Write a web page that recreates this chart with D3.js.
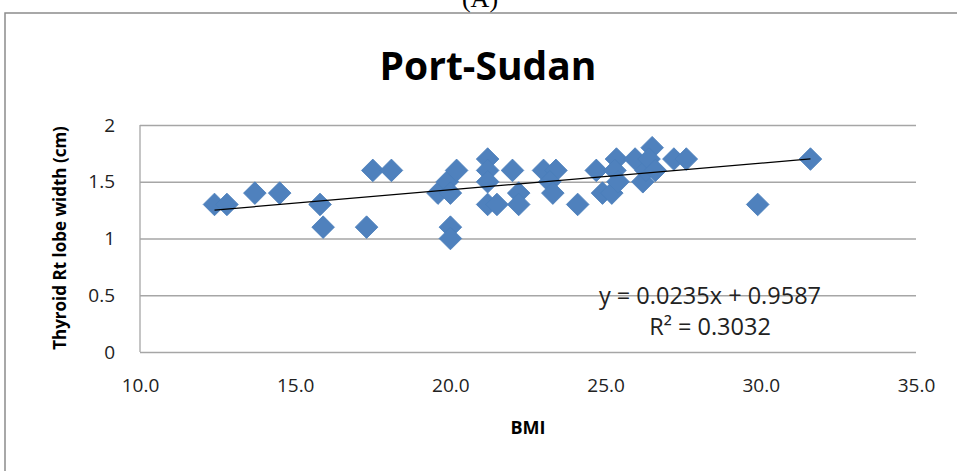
<!DOCTYPE html>
<html>
<head>
<meta charset="utf-8">
<script src="https://cdn.jsdelivr.net/npm/d3@7"></script>
<style>
  body { margin: 0; background: #fff; }
  text { font-family: "Open Sans", sans-serif; }
</style>
</head>
<body>
<svg id="chart" width="957" height="471"></svg>
<script>
// BMI vs thyroid right lobe width, Port-Sudan
const bmi = [12.4, 12.8, 13.7, 14.5, 15.8, 15.9, 17.3, 17.5, 18.1,
  19.6, 19.9, 20.2, 20.0, 20.0, 20.0,
  21.2, 21.2, 21.2, 21.2, 21.5, 22.0, 22.2, 22.2,
  23.0, 23.4, 23.2, 23.3, 24.1,
  24.7, 24.9, 25.2, 25.35, 25.3, 25.4, 25.95, 26.2, 26.3, 26.5, 26.4, 26.6,
  27.2, 27.6, 29.9, 31.6];
const lobeWidth = [1.3, 1.3, 1.4, 1.4, 1.3, 1.1, 1.1, 1.6, 1.6,
  1.4, 1.5, 1.6, 1.4, 1.1, 1.0,
  1.7, 1.6, 1.5, 1.3, 1.3, 1.6, 1.4, 1.3,
  1.6, 1.6, 1.5, 1.4, 1.3,
  1.6, 1.4, 1.4, 1.7, 1.6, 1.5, 1.7, 1.5, 1.6, 1.8, 1.7, 1.6,
  1.7, 1.7, 1.3, 1.7];
const xTicks = [10, 15, 20, 25, 30, 35];
const yTicks = [0, 0.5, 1, 1.5, 2];
const slope = 0.0235, intercept = 0.9587;
const eqLabel = "y = 0.0235x + 0.9587";
const r2Label = "R² = 0.3032";

let svg = d3.select("#chart");

// outer chart frame (right/bottom run off the picture)
svg.append("rect")
  .attr("x", 5).attr("y", 13)
  .attr("width", 980).attr("height", 480)
  .attr("fill", "none")
  .attr("stroke", "#8c8c8c")
  .attr("stroke-width", 1.5);

svg.append("text")
  .attr("x", 480).attr("y", 7)
  .attr("text-anchor", "middle")
  .style("font-family", "'Liberation Serif', serif")
  .style("font-size", "26px")
  .text("(A)");

let pLeft = 140, pRight = 916, pTop = 125, pBottom = 352;

let x = d3.scaleLinear().domain([10, 35]).range([pLeft, pRight]);
let y = d3.scaleLinear().domain([0, 2]).range([pBottom, pTop]);

// gridlines
svg.append("g")
  .attr("transform", "translate(" + pLeft + ",0)")
  .call(d3.axisLeft(y).tickValues(yTicks).tickSize(-(pRight - pLeft)).tickFormat(""))
  .call(g => g.select(".domain").remove())
  .call(g => g.selectAll("line").attr("stroke", "#a6a6a6").attr("stroke-width", 1.3));

// left axis line
svg.append("line")
  .attr("x1", pLeft).attr("x2", pLeft)
  .attr("y1", pTop).attr("y2", pBottom)
  .attr("stroke", "#a6a6a6").attr("stroke-width", 1.3);

// tick labels
svg.append("g")
  .attr("transform", "translate(" + (pLeft - 25) + ",0)")
  .call(d3.axisLeft(y).tickValues(yTicks).tickSize(0).tickPadding(0).tickFormat(d3.format("")))
  .call(g => g.select(".domain").remove())
  .call(g => g.selectAll("text").attr("fill", "#222").style("font-size", "19px"));

svg.append("g")
  .attr("transform", "translate(0," + (pBottom + 26) + ")")
  .call(d3.axisBottom(x).tickValues(xTicks).tickSize(0).tickPadding(0).tickFormat(d3.format(".1f")))
  .call(g => g.select(".domain").remove())
  .call(g => g.selectAll("text").attr("fill", "#222").style("font-size", "19px"));

// points
let pts = bmi.map((b, i) => ({ b: b, w: lobeWidth[i] }));
svg.append("g")
  .selectAll("path")
  .data(pts)
  .enter()
  .append("path")
  .attr("d", d3.symbol().type(d3.symbolSquare).size(256))
  .attr("transform", d => "translate(" + x(d.b) + "," + y(d.w) + ") rotate(45)")
  .attr("fill", "#4f81bd")
  .attr("stroke", "#4a7ebb")
  .attr("stroke-width", 0.8);

// linear trendline
let ext = d3.extent(bmi);
svg.append("line")
  .attr("x1", x(ext[0])).attr("y1", y(slope * ext[0] + intercept))
  .attr("x2", x(ext[1])).attr("y2", y(slope * ext[1] + intercept))
  .attr("stroke", "#000")
  .attr("stroke-width", 1.2);

svg.append("text")
  .attr("x", 710).attr("y", 304)
  .attr("text-anchor", "middle")
  .attr("fill", "#222")
  .style("font-size", "23.5px")
  .text(eqLabel);
svg.append("text")
  .attr("x", 710).attr("y", 335)
  .attr("text-anchor", "middle")
  .attr("fill", "#222")
  .style("font-size", "23.5px")
  .text(r2Label);

// titles
svg.append("text")
  .attr("x", 488).attr("y", 80)
  .attr("text-anchor", "middle")
  .style("font-size", "39px")
  .style("font-weight", "bold")
  .text("Port-Sudan");

svg.append("text")
  .attr("x", 528).attr("y", 434)
  .attr("text-anchor", "middle")
  .style("font-size", "18px")
  .style("font-weight", "bold")
  .text("BMI");

svg.append("text")
  .attr("transform", "translate(66,238) rotate(-90)")
  .attr("text-anchor", "middle")
  .style("font-size", "17px")
  .style("font-weight", "bold")
  .text("Thyroid Rt lobe width (cm)");
</script>
</body>
</html>
